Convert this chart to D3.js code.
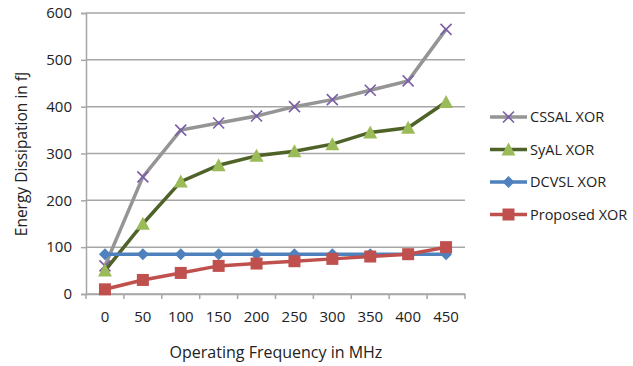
<!DOCTYPE html>
<html lang="en">
<head>
<meta charset="UTF-8">
<title>energy dissipation</title>
<script src="https://cdn.jsdelivr.net/npm/d3@7"></script>
<style>
    body{ margin:0; background:#fff; }
    text{ font-family: "Open Sans", "Liberation Sans", sans-serif; fill:#222; }
</style>
</head>
<body>
<svg id="chart" width="633" height="366"></svg>
<script>
    // data
    let freqs = ["0","50","100","150","200","250","300","350","400","450"]
    let cssal = [60, 250, 350, 365, 380, 400, 415, 435, 455, 565]
    let syal = [50, 150, 240, 275, 295, 305, 320, 345, 355, 410]
    let dcvsl = [85, 85, 85, 85, 85, 85, 85, 85, 85, 85]
    let proposed = [10, 30, 45, 60, 65, 70, 75, 80, 85, 100]
    let y_ticks = [0, 100, 200, 300, 400, 500, 600]

    let series = [
        {name: "CSSAL XOR", values: cssal, line: "#959595", mark: "#7b5ea7", shape: "x"},
        {name: "SyAL XOR", values: syal, line: "#4f6228", mark: "#9bbb59", shape: "tri"},
        {name: "DCVSL XOR", values: dcvsl, line: "#4f81bd", mark: "#4f81bd", shape: "dia"},
        {name: "Proposed XOR", values: proposed, line: "#c0504d", mark: "#c0504d", shape: "sq"}
    ]

    let svg = d3.select("#chart")

    let x_scale = d3.scaleBand()
        .domain(freqs)
        .range([86, 465])

    let y_scale = d3.scaleLinear()
        .domain([0, 600])
        .range([294, 13])

    // gridlines
    svg.append("g")
        .selectAll("line")
        .data(y_ticks)
        .join("line")
        .attr("x1", 86)
        .attr("x2", 465)
        .attr("y1", d => y_scale(d))
        .attr("y2", d => y_scale(d))
        .attr("stroke", "#a6a6a6")
        .attr("stroke-width", 1.5)

    // y axis
    let y_axis = d3.axisLeft(y_scale)
        .tickValues(y_ticks)
        .tickSize(5)
        .tickPadding(9)
    let gy = svg.append("g")
        .attr("transform", "translate(86,0)")
        .call(y_axis)
    gy.select(".domain").attr("stroke", "#a6a6a6").attr("stroke-width", 1.5)
    gy.selectAll(".tick line").attr("stroke", "#a6a6a6").attr("stroke-width", 1.5)
    gy.selectAll("text").style("font-size", "15px").attr("fill", "#222")

    // x axis
    let x_axis = d3.axisBottom(x_scale)
        .tickSize(0)
        .tickPadding(17)
    let gx = svg.append("g")
        .attr("transform", "translate(0,294)")
        .call(x_axis)
    gx.select(".domain").attr("stroke", "#a6a6a6").attr("stroke-width", 1.5)
    gx.selectAll("text").style("font-size", "15px").attr("fill", "#222")
    // category boundary ticks
    gx.selectAll(".bound")
        .data(freqs.concat(["end"]))
        .join("line")
        .attr("class", "bound")
        .attr("x1", (d, i) => 86 + i * x_scale.bandwidth())
        .attr("x2", (d, i) => 86 + i * x_scale.bandwidth())
        .attr("y1", 0)
        .attr("y2", 5)
        .attr("stroke", "#a6a6a6")
        .attr("stroke-width", 1.5)

    // axis titles
    svg.append("text")
        .attr("x", 276)
        .attr("y", 358)
        .style("text-anchor", "middle")
        .style("font-size", "16px")
        .text("Operating Frequency in MHz")

    svg.append("text")
        .attr("transform", "translate(27,154) rotate(-90)")
        .style("text-anchor", "middle")
        .style("font-size", "15.5px")
        .text("Energy Dissipation in fJ")

    function drawMarker(g, shape, color, x, y) {
        if (shape === "x") {
            g.append("path")
                .attr("d", `M${x-5.5},${y-5.5}L${x+5.5},${y+5.5}M${x-5.5},${y+5.5}L${x+5.5},${y-5.5}`)
                .attr("stroke", color).attr("stroke-width", 1.6).attr("fill", "none")
        } else if (shape === "tri") {
            g.append("path")
                .attr("d", `M${x},${y-7}L${x+7},${y+6}L${x-7},${y+6}Z`)
                .attr("fill", color)
        } else if (shape === "dia") {
            g.append("path")
                .attr("d", `M${x},${y-6}L${x+6},${y}L${x},${y+6}L${x-6},${y}Z`)
                .attr("fill", color)
        } else {
            g.append("rect")
                .attr("x", x - 6).attr("y", y - 6)
                .attr("width", 12).attr("height", 12)
                .attr("fill", color)
        }
    }

    let line = d3.line()
        .x((d, i) => x_scale(freqs[i]) + x_scale.bandwidth() / 2)
        .y(d => y_scale(d))

    series.forEach(s => {
        let g = svg.append("g")
        g.append("path")
            .attr("d", line(s.values))
            .attr("fill", "none")
            .attr("stroke", s.line)
            .attr("stroke-width", 3.5)
        s.values.forEach((v, i) => {
            drawMarker(g, s.shape, s.mark, x_scale(freqs[i]) + x_scale.bandwidth() / 2, y_scale(v))
        })
    })

    // legend
    let legend = svg.append("g")
    series.forEach((s, i) => {
        let y = 117 + i * 32.5
        legend.append("line")
            .attr("x1", 490).attr("x2", 527)
            .attr("y1", y).attr("y2", y)
            .attr("stroke", s.line).attr("stroke-width", 3.5)
        drawMarker(legend, s.shape, s.mark, 508.5, y)
        legend.append("text")
            .attr("x", 530)
            .attr("y", y + 5)
            .style("font-size", "14.5px")
            .text(s.name)
    })
</script>
</body>
</html>
